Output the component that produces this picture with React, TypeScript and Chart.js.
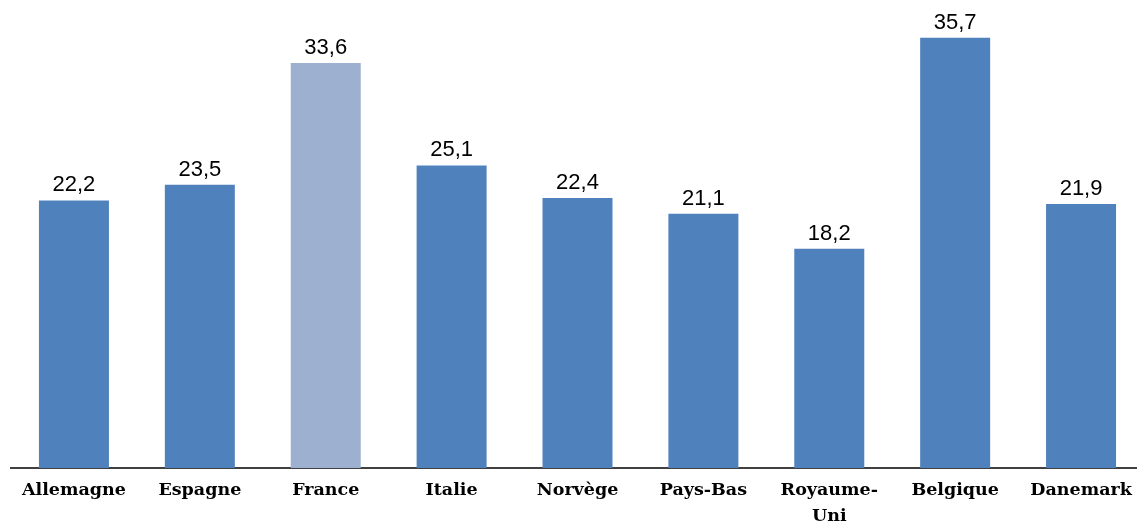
import React, { useEffect, useRef } from "react";
import { Chart, registerables } from "chart.js";

Chart.register(...registerables);

const categories: (string | string[])[] = [
  "Allemagne",
  "Espagne",
  "France",
  "Italie",
  "Norvège",
  "Pays-Bas",
  ["Royaume-", "Uni"],
  "Belgique",
  "Danemark",
];
const values: number[] = [22.2, 23.5, 33.6, 25.1, 22.4, 21.1, 18.2, 35.7, 21.9];
const highlightIndex = 2;
const baseColor = "#4F81BD";
const highlightColor = "#9DB0CF";

const valueLabelPlugin = {
  id: "valueLabels",
  afterDatasetsDraw(chart: any) {
    const ctx = chart.ctx;
    const meta = chart.getDatasetMeta(0);
    ctx.save();
    ctx.font = "22px 'Liberation Sans', Arial, sans-serif";
    ctx.fillStyle = "#000000";
    ctx.textAlign = "center";
    ctx.textBaseline = "alphabetic";
    meta.data.forEach((bar: any, i: number) => {
      const txt = values[i].toFixed(1).replace(".", ",");
      ctx.fillText(txt, bar.x, bar.y - 9);
    });
    ctx.restore();
  },
};

export default function App() {
  const canvasRef = useRef<HTMLCanvasElement | null>(null);

  useEffect(() => {
    if (!canvasRef.current) return;
    const chart = new Chart(canvasRef.current, {
      type: "bar",
      data: {
        labels: categories,
        datasets: [
          {
            data: values,
            backgroundColor: values.map((_, i) => (i === highlightIndex ? highlightColor : baseColor)),
            barPercentage: 0.556,
            categoryPercentage: 1,
          },
        ],
      },
      options: {
        animation: false,
        responsive: true,
        maintainAspectRatio: false,
        layout: { padding: { top: 10, left: 11, right: 0, bottom: 0 } },
        plugins: {
          legend: { display: false },
          tooltip: { enabled: false },
        },
        scales: {
          x: {
            grid: { display: false, drawTicks: false },
            border: { display: true, color: "#404040", width: 2 },
            ticks: {
              color: "#000000",
              padding: 9,
              maxRotation: 0,
              autoSkip: false,
              font: { family: "'DejaVu Serif', serif", weight: "bold", size: 17.5, lineHeight: 1.5 },
            },
            afterFit: (scale: any) => {
              scale.height = 58;
            },
          },
          y: {
            display: false,
            min: 0,
            max: 38,
          },
        },
      },
      plugins: [valueLabelPlugin],
    });
    return () => chart.destroy();
  }, []);

  return (
    <div style={{ position: "fixed", left: 0, top: 0, width: 1137, height: 526, overflow: "hidden", background: "#fff" }}>
      <div style={{ position: "relative", width: 1144, height: 526 }}>
        <canvas ref={canvasRef} />
      </div>
    </div>
  );
}
